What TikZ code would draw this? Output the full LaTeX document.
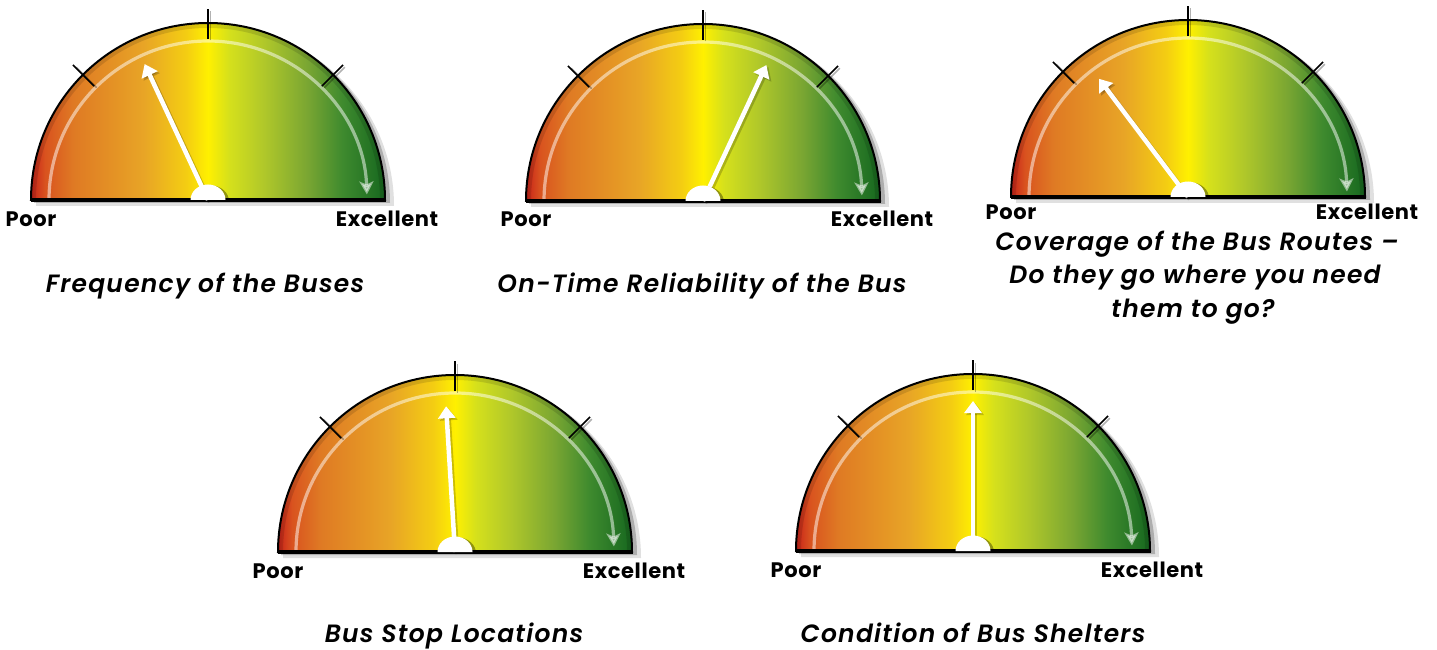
\documentclass[tikz,border=0pt]{standalone}
\usepackage{fontspec}
\setmainfont{Poppins}
\IfFontExistsTF{Poppins SemiBold Italic}
  {\newfontfamily\ttlfam{Poppins SemiBold Italic}[LetterSpace=5]\newcommand\ttlfont{\ttlfam}}
  {\newfontfamily\ttlfam{Poppins}[LetterSpace=5]\newcommand\ttlfont{\ttlfam\bfseries\itshape}}
\newfontfamily\lblfam{Poppins}[LetterSpace=3]
\usetikzlibrary{arrows.meta}
\definecolor{gR}{HTML}{C8231A}
\definecolor{gRO}{HTML}{D9531F}
\definecolor{gO}{HTML}{DF7A24}
\definecolor{gOY}{HTML}{E8A526}
\definecolor{gY2}{HTML}{F4CE12}
\definecolor{gY}{HTML}{FFF000}
\definecolor{gYG}{HTML}{D5E01C}
\definecolor{gLG}{HTML}{AFC72A}
\definecolor{gG}{HTML}{7AA632}
\definecolor{gDG}{HTML}{3E8A2E}
\definecolor{gDDG}{HTML}{17681F}
\pgfdeclarehorizontalshading{gaugeshade}{100bp}{color(0bp)=(gR); color(25bp)=(gR); color(27bp)=(gRO); color(31bp)=(gO); color(41bp)=(gOY); color(47bp)=(gY2); color(50bp)=(gY); color(53bp)=(gYG); color(58bp)=(gLG); color(64bp)=(gG); color(69bp)=(gDG); color(75bp)=(gDDG); color(100bp)=(gDDG)}
\tikzset{
  lbl/.style={font=\lblfam\fontsize{21}{24}\selectfont\bfseries, text=black, inner sep=0pt, anchor=base},
  ttl/.style={font=\ttlfont\fontsize{25}{33}\selectfont, text=black, inner sep=0pt, anchor=base},
  tickmark/.style={line width=1.6pt, black},
  tickshadow/.style={line width=1.6pt, black, opacity=.3},
  needle/.style={white, line width=4.5pt, -{Triangle[length=12pt,width=17pt]}},
  needleshadow/.style={black, opacity=.2, line width=4.5pt, -{Triangle[length=12pt,width=17pt]}},
  innerarc/.style={white, opacity=.5, line width=3.2pt, -{Stealth[length=13pt,width=14pt,inset=3pt]}}
}
% #1 x, #2 y from top, #3 needle angle, #4 needle length, #5 name, #6 label baseline offset
\newcommand\gaugeDraw[6]{%
\begin{scope}[shift={(#1,649-#2)}]
  \fill[black,opacity=.12] (-172,-6) arc[start angle=180,end angle=0,radius=179] -- cycle;
  \fill[black,opacity=.22] (-174,-3) arc[start angle=180,end angle=0,radius=178] -- cycle;
  \shade[shading=gaugeshade] (-177,0) arc[start angle=180,end angle=0,radius=177] -- cycle;
  \draw[black,opacity=.12,line width=5pt] (-174.5,0) arc[start angle=180,end angle=0,radius=174.5];
  \draw[innerarc] (-159,0) arc[start angle=180,end angle=2,radius=159];
  \foreach \a in {45,90,135}{
    \draw[tickshadow] ([shift={(2.5,-1.5)}]\a:161) -- ([shift={(2.5,-1.5)}]\a:190);
    \draw[tickmark] (\a:161) -- (\a:191);
  }
  \draw[line width=2pt] (-177,0) arc[start angle=180,end angle=0,radius=177] -- cycle;
  \draw[line width=3.5pt] (-177.5,0) -- (177.5,0);
  \draw[needleshadow] (2,-2) -- ++(#3:#4);
  \draw[needle] (0,0) -- (#3:#4);
  \fill[black,opacity=.35] (21,-1.5) arc[start angle=0,end angle=180,x radius=18,y radius=16] -- cycle;
  \fill[white] (17.5,0) arc[start angle=0,end angle=180,x radius=17.5,y radius=15.5] -- cycle;
  \node[lbl] (#5-poor) at (-177,-#6) {Poor};
  \node[lbl] (#5-exc) at (179,-#6) {Excellent};
\end{scope}}
\begin{document}
\begin{tikzpicture}[x=1pt,y=1pt]
  \useasboundingbox[fill=white] (0,0) rectangle (1437,649);
  \gaugeDraw{208}{200}{115}{150}{g1}{27}
  \gaugeDraw{703}{201}{65}{150}{g2}{26}
  \gaugeDraw{1188}{197}{127}{148}{g3}{23}
  \gaugeDraw{455}{552}{93.5}{146}{g4}{26}
  \gaugeDraw{973}{551}{90}{150}{g5}{26}
  \node[ttl] (t1) at (205,649-293) {Frequency of the Buses};
  \node[ttl] (t2) at (702,649-293) {On-Time Reliability of the Bus};
  \node[ttl] (t3a) at (1197,649-250) {Coverage of the Bus Routes –};
  \node[ttl] (t3b) at (1195,649-283.5) {Do they go where you need};
  \node[ttl] (t3c) at (1193,649-317) {them to go?};
  \node[ttl] (t4) at (454,649-642) {Bus Stop Locations};
  \node[ttl] (t5) at (973,649-642) {Condition of Bus Shelters};
\end{tikzpicture}
\end{document}
